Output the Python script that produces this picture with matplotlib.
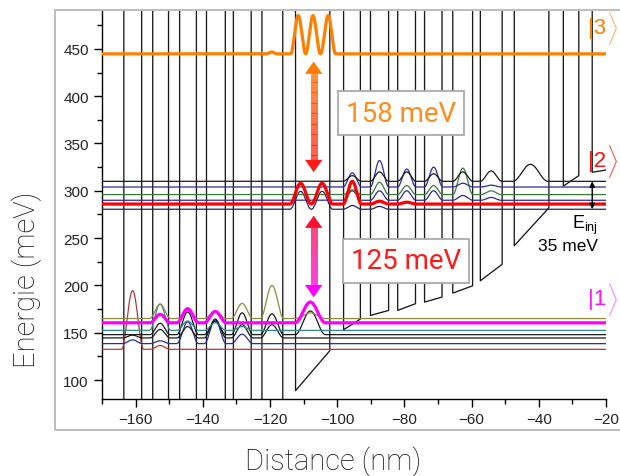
import numpy as np
import matplotlib
matplotlib.use("Agg")
import matplotlib.pyplot as plt
from matplotlib.patches import Rectangle, Polygon
from matplotlib.collections import LineCollection
from matplotlib.ticker import MultipleLocator
import matplotlib.colors as mcolors

plt.rcParams['font.family'] = ['Liberation Sans', 'DejaVu Sans']
plt.rcParams['mathtext.fontset'] = 'custom'
plt.rcParams['mathtext.rm'] = 'Liberation Sans'
plt.rcParams['mathtext.it'] = 'Liberation Sans:italic'

# ---------------- data ----------------
x_range = (-170, -20)
e_range = (80, 490)
x_ticks = [-160, -140, -120, -100, -80, -60, -40, -20]
e_ticks = [100, 150, 200, 250, 300, 350, 400, 450]

# conduction band: wells (nm) and their bottom energies (meV); barriers rise off-chart
well_left = [-163.5, -154.9, -146.9, -138.9, -130.9, -122.4, -112.4, -98.1, -90.1,
             -82.0, -74.0, -65.6, -57.4, -47.3, -32.7, -24.1]
well_right = [-158.2, -150.2, -141.9, -133.3, -125.6, -116.2, -102.2, -93.1, -84.7,
              -76.7, -68.8, -59.7, -50.9, -37.0, -28.1, -20.0]
well_bottom_left = [60, 60, 60, 60, 60, 60, 88.8, 153.2, 168.3, 173.6, 182.4, 191.9,
                    204.9, 242.0, 305.0, 319.6]
well_bottom_right = [60, 60, 60, 60, 60, 60, 131.0, 164.5, 173.6, 180.7, 187.7, 199.6,
                     222.4, 282.0, 316.0, 322.0]
barrier_top = 600.0

# subband energies (meV)
E_darkred, E_blue1, E_black1, E_black2, E_teal, E_mag, E_olive = 132.5, 138.5, 144.5, 148.0, 152.5, 160.5, 165.0
E_navy, E_red, E_blue2, E_green, E_blue3, E_black3 = 280.5, 286.0, 290.0, 296.0, 304.0, 310.0
E_orange = 444.7

# wavefunction lobes: (centre nm, height meV, width nm)
wf_darkred = [(-160.9, 62, 6.6), (-152.7, 4, 6)]
wf_blue1 = [(-160.9, 4, 6), (-152.7, 3, 6), (-144.5, 23, 6.5), (-136.3, 25, 6.5), (-128.3, 10, 6.5)]
wf_black1 = [(-160.9, 3, 6), (-152.7, 9, 6), (-144.5, 12, 6.5), (-136.3, 20, 6.5), (-128.3, 14, 6.5), (-119.4, 14, 7)]
wf_black2 = [(-152.7, 12, 6), (-144.5, 24, 6.5), (-136.3, 14, 6.5), (-128.3, 23, 6.5), (-119.4, 22, 7), (-108.0, 25, 9)]
wf_teal = [(-152.7, 28, 6.3), (-144.5, 10, 6.5), (-136.3, 8, 6.5), (-128.3, 4, 6.5)]
wf_magenta = [(-152.7, 9, 6), (-144.5, 15, 6.5), (-136.3, 12, 6.5), (-108.0, 22, 9)]
wf_olive = [(-152.7, 15, 6.3), (-144.5, 8, 6.5), (-136.3, 8, 6.5), (-128.3, 16, 6.5), (-119.4, 35, 7), (-108.0, 6, 9)]

wf_navy = [(-110.9, 19, 6.4), (-104.5, 19, 6.4), (-95.5, 4, 5.5), (-87.4, 3, 5.5)]
wf_red = [(-110.9, 22, 6.4), (-104.5, 22, 6.4), (-95.5, 24, 5.5), (-87.4, 3, 5.5), (-79.3, 2, 5.5)]
wf_blue2 = [(-95.5, 10, 5.5), (-87.4, 10, 5.5), (-79.3, 10, 5.5), (-71.3, 10, 5.5), (-62.6, 5, 6), (-54.2, 3, 6)]
wf_green = [(-95.5, 5, 5.5), (-87.4, 13, 5.5), (-79.3, 9.5, 5.5), (-71.3, 9.5, 5.5), (-62.6, 28, 6), (-54.2, 4, 6)]
wf_blue3 = [(-95.5, 15, 5.5), (-87.4, 28, 5.5), (-79.3, 19, 5.5), (-71.3, 21, 5.5), (-62.6, 4, 6), (-54.2, 2, 6)]
wf_black3 = [(-95.5, 6, 5.5), (-87.4, 10, 5.5), (-79.3, 10, 5.5), (-71.3, 8, 5.5), (-62.6, 10, 6), (-54.2, 11, 6.5), (-42.5, 18, 10.5)]
wf_orange = [(-119.5, 2, 3), (-111.6, 40.5, 4.5), (-107.2, 40.5, 4.4), (-102.7, 40.5, 4.5)]

# annotations
transition_32 = "158 meV"
transition_21 = "125 meV"
einj_text = "35 meV"
ket_labels = ["|3", "|2", "|1"]
ket_energy = [473, 332, 186]

# ---------------- styles ----------------
c_black = "#1a1a1a"
c_darkred = "#b03a3a"
c_blue = "#2c2c9c"
c_teal = "#2e8c8c"
c_magenta = "#ff00ff"
c_olive = "#8c8c3c"
c_navy = "#22226e"
c_red = "#ff0000"
c_green = "#3a7a3a"
c_orange = "#ff8000"

thin_states = [
    (E_darkred, wf_darkred, c_darkred), (E_blue1, wf_blue1, c_blue),
    (E_black1, wf_black1, c_black), (E_black2, wf_black2, c_black),
    (E_teal, wf_teal, c_teal), (E_olive, wf_olive, c_olive),
    (E_navy, wf_navy, c_navy), (E_blue2, wf_blue2, c_blue),
    (E_green, wf_green, c_green), (E_blue3, wf_blue3, c_blue),
    (E_black3, wf_black3, c_black),
]
thick_states = [(E_mag, wf_magenta, c_magenta), (E_red, wf_red, c_red),
                (E_orange, wf_orange, c_orange)]

fig = plt.figure(figsize=(6.2, 4.77), dpi=100)
ax = fig.add_axes([102 / 620, 1 - 400 / 477, (606 - 102) / 620, (400 - 12) / 477])

# outer grey frame
fig.patches.append(Rectangle((55 / 620, 1 - 431 / 477), 1.2, (431 - 11) / 477,
                             transform=fig.transFigure, fill=False,
                             edgecolor="#b8b8b8", lw=1.3, zorder=0))

# conduction band profile
px, py = [], []
for xl, xr, bl, br in zip(well_left, well_right, well_bottom_left, well_bottom_right):
    px += [xl, xl, xr, xr]
    py += [barrier_top, bl, br, barrier_top]
px, py = px[:-1], py[:-1]
ax.plot(px, py, color=c_black, lw=0.95, zorder=2)

xs = np.linspace(x_range[0], x_range[1], 3000)


def wavefunction(E, lobes):
    y = np.full_like(xs, E, dtype=float)
    for c, a, w in lobes:
        m = np.abs(xs - c) < w / 2
        y[m] += a * np.cos(np.pi * (xs[m] - c) / w) ** 2
    return y


for E, lobes, col in thin_states:
    ax.plot(xs, wavefunction(E, lobes), color=col, lw=0.9, zorder=3)
for E, lobes, col in thick_states:
    ax.plot(xs, wavefunction(E, lobes), color=col, lw=2.3, zorder=4)


def grad_arrow(x, y_top, y_bot, c_top, c_bot, shaft=5.0, head_w=5.2, head_l=13.0):
    cmap = mcolors.LinearSegmentedColormap.from_list('g', [c_bot, c_top])
    n = 80
    ys = np.linspace(y_bot + head_l * 0.9, y_top - head_l * 0.9, n + 1)
    segs = [[(x, ys[i]), (x, ys[i + 1])] for i in range(n)]
    mid = (ys[:-1] + ys[1:]) / 2
    frac = (mid - y_bot) / (y_top - y_bot)
    ax.add_collection(LineCollection(segs, colors=cmap(frac), linewidths=shaft,
                                     capstyle='butt', zorder=6))
    ax.add_patch(Polygon([(x - head_w / 2, y_top - head_l), (x + head_w / 2, y_top - head_l),
                          (x, y_top)], closed=True, color=c_top, lw=0, zorder=6))
    ax.add_patch(Polygon([(x - head_w / 2, y_bot + head_l), (x + head_w / 2, y_bot + head_l),
                          (x, y_bot)], closed=True, color=c_bot, lw=0, zorder=6))


grad_arrow(-107.0, 436.6, 319.7, "#ff7a00", "#ff1a1a")
grad_arrow(-107.0, 273.8, 187.5, "#ff1030", "#ff00ff")

label_font = dict(family=['Roboto', 'DejaVu Sans'], weight='light')
box_font = dict(family=['Roboto', 'DejaVu Sans'], weight='normal')
box = dict(boxstyle="square,pad=0.3", facecolor="white", edgecolor="#aaaaaa", lw=1.3)
ax.text(-81.0, 382.0, transition_32, color="#ff8c1a", fontsize=20, ha='center', va='center',
        bbox=box, zorder=7, **box_font)
ax.text(-79.5, 226.0, transition_21, color="#ff1a1a", fontsize=20, ha='center', va='center',
        bbox=box, zorder=7, **box_font)

# E_inj
ax.annotate("", xy=(-24.1, E_navy), xytext=(-24.1, E_black3),
            arrowprops=dict(arrowstyle="<|-|>", color="black", lw=1.0,
                            mutation_scale=8, shrinkA=0, shrinkB=0), zorder=8)
ax.text(-22.3, 264, r"$\mathrm{E_{inj}}$", fontsize=13, ha='right', va='center', color='black')
ax.text(-22.5, 242.3, einj_text, fontsize=12.5, ha='right', va='center', color='black')

# kets
ket_colors = [(c_orange, "#ffb070"), ("#ff1010", "#ff5050"), ("#ff10ff", "#ff80ff")]
for lab, E, (col, col2) in zip(ket_labels, ket_energy, ket_colors):
    ax.text(-25.4, E, lab, color=col, fontsize=16, ha='left', va='center', clip_on=False,
            zorder=9, family=['Liberation Sans'])
    ax.text(-19.9, E, r"$\rangle$", color=col2, fontsize=19, ha='left', va='center',
            clip_on=False, zorder=9)

ax.set_xlim(*x_range)
ax.set_ylim(*e_range)
ax.set_xticks(x_ticks)
ax.set_yticks(e_ticks)
ax.xaxis.set_minor_locator(MultipleLocator(10))
ax.yaxis.set_minor_locator(MultipleLocator(25))
ax.tick_params(which='major', length=6, width=1.0, direction='out', labelsize=11,
               labelcolor="#222222")
ax.tick_params(which='minor', length=3.5, width=1.0, direction='out')
for s in ['top', 'right']:
    ax.spines[s].set_visible(False)
for s in ['left', 'bottom']:
    ax.spines[s].set_linewidth(1.0)

fig.text(27 / 620, 1 - 280 / 477, "Energie (meV)", rotation=90, ha='center', va='center',
         fontsize=21, color="#111111", **label_font)
fig.text(333 / 620, 1 - 462 / 477, "Distance (nm)", ha='center', va='center',
         fontsize=21, color="#111111", **label_font)

fig.savefig("out.png", dpi=100)
